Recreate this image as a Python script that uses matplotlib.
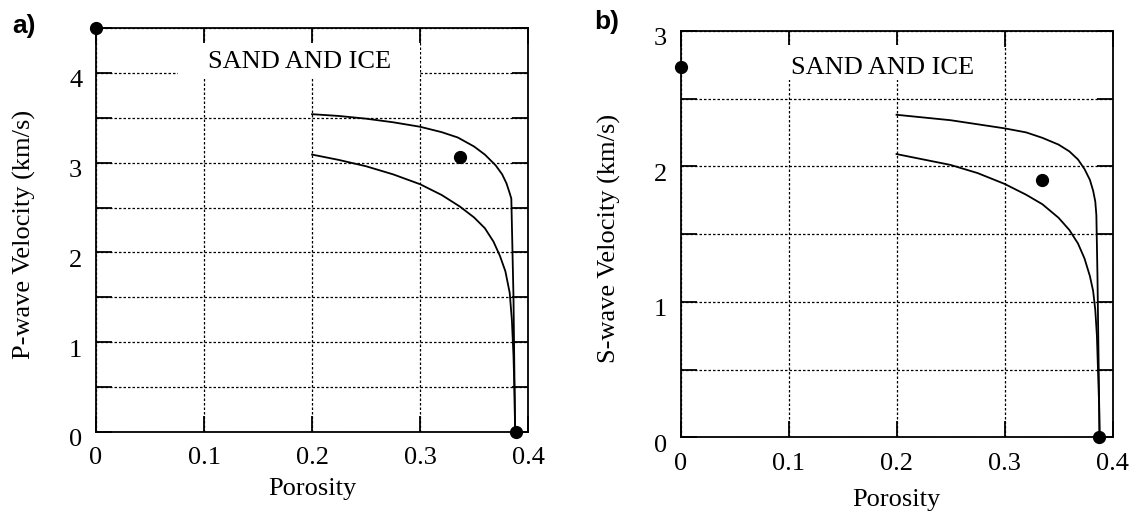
import numpy as np
import matplotlib
matplotlib.use("Agg")
import matplotlib.pyplot as plt
from matplotlib.patches import Rectangle
from matplotlib.transforms import ScaledTranslation

plt.rcParams['font.family'] = ['Liberation Serif', 'DejaVu Serif']

# ---------------- data ----------------
x_ticks = [0, 0.1, 0.2, 0.3, 0.4]
x_ticklabels = ['0', '0.1', '0.2', '0.3', '0.4']

# Panel a: P-wave
a_yticks = [0, 0.5, 1, 1.5, 2, 2.5, 3, 3.5, 4, 4.5]
a_yticklabels = ['0', '', '1', '', '2', '', '3', '', '4', '']
a_upper_x = [0.20, 0.225, 0.25, 0.275, 0.30, 0.32, 0.335, 0.35, 0.36, 0.37,
             0.376, 0.380, 0.383, 0.3845, 0.3865, 0.388]
a_upper_y = [3.54, 3.52, 3.49, 3.45, 3.40, 3.34, 3.28, 3.18, 3.09, 2.97,
             2.87, 2.77, 2.66, 2.60, 1.50, 0.0]
a_lower_x = [0.20, 0.225, 0.25, 0.275, 0.30, 0.32, 0.337, 0.35, 0.36, 0.368,
             0.374, 0.379, 0.383, 0.385, 0.3865, 0.3875, 0.388]
a_lower_y = [3.09, 3.03, 2.96, 2.87, 2.76, 2.64, 2.51, 2.39, 2.27, 2.12,
             1.96, 1.79, 1.55, 1.25, 0.85, 0.40, 0.0]
a_pts_x = [0.0, 0.337, 0.3886]
a_pts_y = [4.5, 3.06, 0.0]

# Panel b: S-wave
b_yticks = [0, 0.5, 1, 1.5, 2, 2.5, 3]
b_yticklabels = ['0', '', '1', '', '2', '', '3']
b_upper_x = [0.20, 0.225, 0.25, 0.275, 0.30, 0.32, 0.335, 0.35, 0.36, 0.368,
             0.374, 0.379, 0.382, 0.384, 0.385, 0.386, 0.387, 0.388]
b_upper_y = [2.38, 2.36, 2.34, 2.31, 2.28, 2.25, 2.21, 2.16, 2.11, 2.05,
             1.98, 1.90, 1.82, 1.74, 1.64, 1.20, 0.60, 0.0]
b_lower_x = [0.20, 0.225, 0.25, 0.275, 0.30, 0.32, 0.335, 0.35, 0.36, 0.368,
             0.374, 0.379, 0.382, 0.384, 0.3855, 0.3865, 0.3875, 0.388]
b_lower_y = [2.09, 2.05, 2.01, 1.95, 1.87, 1.79, 1.72, 1.62, 1.53, 1.43,
             1.32, 1.19, 1.08, 0.94, 0.75, 0.50, 0.25, 0.0]
b_pts_x = [0.0, 0.335, 0.3878]
b_pts_y = [2.73, 1.90, 0.0]

title_text = 'SAND AND ICE'

# ---------------- figure ----------------
fig = plt.figure(figsize=(11.31, 5.12), dpi=100)
ax_a = fig.add_axes([0.0849, 0.1563, 0.3820, 0.7890])
ax_b = fig.add_axes([0.6017, 0.1459, 0.3820, 0.7940])

FS = 19


def style(ax, yticks, yticklabels, ymax, ylabel, box, text_xy, xlabel_y):
    ax.set_xlim(0, 0.4)
    ax.set_ylim(0, ymax)
    ax.set_xticks(x_ticks, x_ticklabels)
    ax.set_yticks(yticks, yticklabels)
    ax.set_axisbelow(True)
    ax.grid(True, color='black', linestyle=(0, (2, 1.6)), linewidth=0.9)
    ax.tick_params(which='both', direction='in', top=True, right=True,
                   length=11.5, width=1.3, labelsize=FS, color='black')
    ax.tick_params(axis='y', pad=10)
    ax.tick_params(axis='x', pad=11)
    for s in ax.spines.values():
        s.set_linewidth(1.3)
    off = ScaledTranslation(0, -6 / 100, fig.dpi_scale_trans)
    for lab in ax.get_yticklabels():
        lab.set_transform(lab.get_transform() + off)
    ax.add_patch(Rectangle((box[0], box[1]), box[2], box[3],
                           transform=ax.transAxes, facecolor='white',
                           edgecolor='none', zorder=1))
    ax.text(text_xy[0], text_xy[1], title_text, transform=ax.transAxes,
            ha='center', va='baseline', fontsize=FS, zorder=3)
    ax.set_xlabel('Porosity', fontsize=FS)
    ax.set_ylabel(ylabel, fontsize=FS)
    ax.xaxis.set_label_coords(0.5, xlabel_y)
    ax.yaxis.set_label_coords(-0.138, 0.49)


style(ax_a, a_yticks, a_yticklabels, 4.5, 'P-wave Velocity (km/s)',
      (0.19, 0.878, 0.56, 0.085), (0.47, 0.900), -0.115)
style(ax_b, b_yticks, b_yticklabels, 3.0, 'S-wave Velocity (km/s)',
      (0.186, 0.879, 0.554, 0.085), (0.4665, 0.893), -0.128)

for ax, ux, uy, lx, ly, px, py in [
        (ax_a, a_upper_x, a_upper_y, a_lower_x, a_lower_y, a_pts_x, a_pts_y),
        (ax_b, b_upper_x, b_upper_y, b_lower_x, b_lower_y, b_pts_x, b_pts_y)]:
    ax.plot(ux, uy, color='black', linewidth=1.3, zorder=2)
    ax.plot(lx, ly, color='black', linewidth=1.3, zorder=2)
    ax.plot(px, py, 'o', color='black', markersize=8.5, clip_on=False, zorder=4)

fig.text(12 / 1131, 1 - 14 / 512, 'a)', fontsize=19, fontweight='bold',
         family='Liberation Sans', ha='left', va='top')
fig.text(594 / 1131, 1 - 10 / 512, 'b)', fontsize=19, fontweight='bold',
         family='Liberation Sans', ha='left', va='top')

fig.savefig('out.png', dpi=100)
